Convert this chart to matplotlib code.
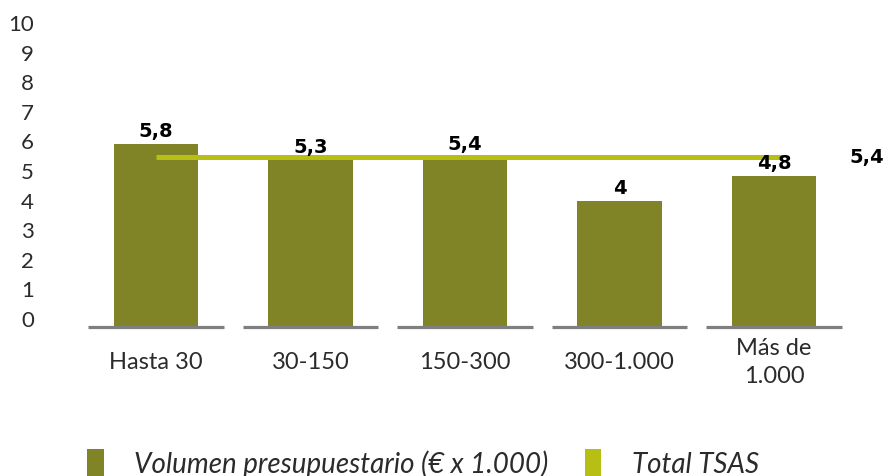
import matplotlib.pyplot as plt
import matplotlib.patches as mpatches

categories = ['Hasta 30', '30-150', '150-300', '300-1.000', 'Más de\n1.000']
volumen = [5.8, 5.3, 5.4, 4.0, 4.8]
volumen_labels = ['5,8', '5,3', '5,4', '4', '4,8']
total_tsas = 5.4
total_label = '5,4'
y_ticks = list(range(0, 11))

bar_color = '#808427'
line_color = '#b7bf14'
base_color = '#7f7f7f'
text_color = '#2b2b2b'

plt.rcParams['font.family'] = ['Lato', 'DejaVu Sans']

W, H = 885, 477
fig = plt.figure(figsize=(W / 100, H / 100), dpi=100)

# main plotting area: x from 45px to 885px, zero line at 328px, 31.5 px per unit
left_px, right_px = 45, 885
zero_px = 328
unit_px = 31.5
ax = fig.add_axes([left_px / W, (H - zero_px) / H, (right_px - left_px) / W, 10 * unit_px / H])
step = 154.5
x0 = (left_px - 156) / step
ax.set_xlim(x0, x0 + (right_px - left_px) / step)
ax.set_ylim(0, 10)

xs = list(range(len(categories)))
ax.bar(xs, volumen, width=0.545, color=bar_color, zorder=2)
ax.hlines([0] * len(xs), [x - 0.44 for x in xs], [x + 0.44 for x in xs],
          color=base_color, linewidth=2.3, zorder=3, clip_on=False)
ax.plot([xs[0], xs[-1] + 0.05], [total_tsas, total_tsas], color=line_color,
        linewidth=3.6, solid_capstyle='butt', zorder=4)

bold = dict(fontsize=14, fontweight='bold', color='black', family='DejaVu Sans')
for x, v, lab in zip(xs, volumen, volumen_labels):
    ax.annotate(lab, (x, v), xytext=(0, 3), textcoords='offset points',
                ha='center', va='bottom', zorder=5, **bold)
ax.text(xs[-1] + 0.49, total_tsas, total_label, ha='left', va='center', **bold)

ax.set_xticks(xs)
ax.set_xticklabels(categories, fontsize=17, color=text_color, linespacing=1.4)
ax.tick_params(axis='x', length=0, pad=25)
for t in ax.get_xticklabels():
    t.set_verticalalignment('center')
ax.set_yticks([])
for s in ax.spines.values():
    s.set_visible(False)

# y tick labels sit on their own scale (0 at 319px, 10 at 23px)
ax_t = fig.add_axes([left_px / W, (H - 319) / H, (right_px - left_px) / W, (319 - 23) / H])
ax_t.set_ylim(0, 10)
ax_t.set_yticks(y_ticks)
ax_t.set_yticklabels([str(t) for t in y_ticks], fontsize=16, color=text_color)
ax_t.tick_params(axis='y', length=0, pad=8)
ax_t.set_xticks([])
ax_t.patch.set_visible(False)
for s in ax_t.spines.values():
    s.set_visible(False)

handles = [mpatches.Patch(facecolor=bar_color, label='Volumen presupuestario (€ x 1.000)'),
           mpatches.Patch(facecolor=line_color, label='Total TSAS')]
leg = fig.legend(handles=handles, loc='center left', bbox_to_anchor=(62 / W, 0.028),
                 ncol=2, frameon=False,
                 prop={'size': 20, 'style': 'italic'},
                 handlelength=0.6, handleheight=1.15, handletextpad=1.1, columnspacing=1.3)
for t in leg.get_texts():
    t.set_color(text_color)

fig.savefig('out.png', dpi=100)
